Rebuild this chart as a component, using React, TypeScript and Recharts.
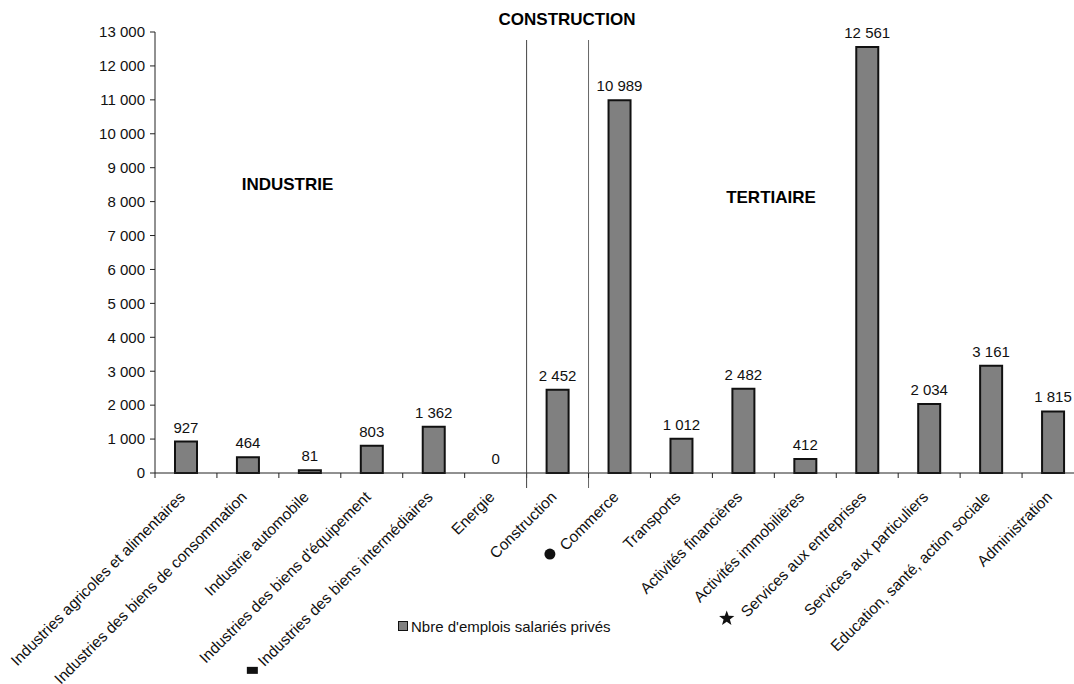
import { ComposedChart, Bar, Line, XAxis, YAxis, LabelList, Legend } from "recharts";

const categories = [
  "Industries agricoles et alimentaires",
  "Industries des biens de consommation",
  "Industrie automobile",
  "Industries des biens d'équipement",
  "Industries des biens intermédiaires",
  "Energie",
  "Construction",
  "Commerce",
  "Transports",
  "Activités financières",
  "Activités immobilières",
  "Services aux entreprises",
  "Services aux particuliers",
  "Education, santé, action sociale",
  "Administration",
];
const jobs = [927, 464, 81, 803, 1362, 0, 2452, 10989, 1012, 2482, 412, 12561, 2034, 3161, 1815];
// small symbols printed in front of some category names
const labelMarks = ["", "", "", "", "rect", "", "", "circle", "", "", "", "star", "", "", ""];
const yTicks = [0, 1000, 2000, 3000, 4000, 5000, 6000, 7000, 8000, 9000, 10000, 11000, 12000, 13000];
const seriesName = "Nbre d'emplois salariés privés";

const FONT = '"Liberation Sans", Arial, Helvetica, sans-serif';
const LABEL_SIZE = 15.5;
const SEPARATOR_TOP = 40;

const data = categories.map((name, i) => ({ name, value: jobs[i] }));

const fmt = (v: number | string) => String(v).replace(/\B(?=(\d{3})+(?!\d))/g, " ");

let ctx: CanvasRenderingContext2D | null = null;
function textWidth(s: string, size: number) {
  if (!ctx) ctx = document.createElement("canvas").getContext("2d");
  if (!ctx) return s.length * size * 0.5;
  ctx.font = `${size}px ${FONT}`;
  return ctx.measureText(s).width;
}

function starPath(cx: number, cy: number, r: number, ri: number) {
  const pts: string[] = [];
  for (let k = 0; k < 10; k++) {
    const rad = k % 2 === 0 ? r : ri;
    const a = -Math.PI / 2 + (k * Math.PI) / 5;
    pts.push(`${(cx + rad * Math.cos(a)).toFixed(2)},${(cy + rad * Math.sin(a)).toFixed(2)}`);
  }
  return "M" + pts.join("L") + "Z";
}

function CategoryTick(props: any) {
  const { x, y, payload } = props;
  const label = String(payload.value);
  const idx = categories.indexOf(label);
  const half = payload.offset ?? 31;
  const mark = labelMarks[idx];
  const ex = x;
  const ey = y + 25;
  const w = textWidth(label, LABEL_SIZE);
  // start of the rotated label (baseline)
  const sx = ex - w * Math.SQRT1_2;
  const sy = ey + w * Math.SQRT1_2;

  return (
    <g>
      <line x1={x - half} y1={y} x2={x - half} y2={y + 5} stroke="#222" />
      {idx === categories.length - 1 && <line x1={x + half} y1={y} x2={x + half} y2={y + 5} stroke="#222" />}
      {label === "Construction" && (
        <>
          <line x1={x - half} y1={y + 15} x2={x - half} y2={SEPARATOR_TOP} stroke="#444" />
          <line x1={x + half} y1={y + 15} x2={x + half} y2={SEPARATOR_TOP} stroke="#666" />
        </>
      )}
      <text x={ex} y={ey} textAnchor="end" transform={`rotate(-45 ${ex} ${ey})`} fontSize={LABEL_SIZE} fill="#111">
        {label}
      </text>
      {mark === "circle" && <circle cx={sx - 16} cy={sy + 2.5} r={5.5} fill="#111" />}
      {mark === "rect" && <rect x={sx - 12 - 5.5} y={sy + 3 - 3.5} width={11} height={7} fill="#111" />}
      {mark === "star" && <path d={starPath(sx - 20.5, sy + 0.5, 8, 3.3)} fill="#111" />}
    </g>
  );
}

function ValueLabel(props: any) {
  const { x, y, value } = props;
  return (
    <text x={x} y={y - 9} textAnchor="middle" fontSize={15} fill="#111">
      {fmt(value)}
    </text>
  );
}

function LegendBox(props: any) {
  const items = (props.payload ?? []).filter((it: any) => it.type !== "none");
  return (
    <div>
      {items.map((it: any) => (
        <div key={it.value} style={{ display: "flex", alignItems: "center", height: 20, fontSize: 15, color: "#111", whiteSpace: "nowrap" }}>
          <span style={{ display: "inline-block", boxSizing: "border-box", width: 10, height: 10, background: "#808080", border: "1.5px solid #111", marginRight: 3 }} />
          {it.value}
        </div>
      ))}
    </div>
  );
}

export default function App() {
  return (
    <div style={{ position: "absolute", left: 0, top: 0, width: 1074, height: 684, overflow: "hidden", background: "#fff", fontFamily: FONT }}>
      <ComposedChart width={1090} height={684} data={data} margin={{ top: 32, right: 6, bottom: 0, left: 0 }}>
        <XAxis
          dataKey="name"
          interval={0}
          height={211}
          tickLine={false}
          tickSize={0}
          tickMargin={0}
          axisLine={{ stroke: "#222" }}
          tick={<CategoryTick />}
        />
        <YAxis
          type="number"
          domain={[0, 13000]}
          ticks={yTicks}
          interval={0}
          width={155}
          tickSize={5}
          tickMargin={5}
          tickFormatter={fmt}
          tick={{ fontSize: 15, fill: "#111" }}
          axisLine={{ stroke: "#222" }}
          tickLine={{ stroke: "#222" }}
        />
        <Legend
          layout="vertical"
          align="center"
          verticalAlign="middle"
          wrapperStyle={{ left: 398, top: 616, width: "auto" }}
          content={<LegendBox />}
        />
        <Bar dataKey="value" name={seriesName} fill="#808080" stroke="#111" strokeWidth={2} barSize={22} isAnimationActive={false} />
        {/* invisible series carrying the value labels, so the zero value gets its label too */}
        <Line
          dataKey="value"
          name="labels"
          stroke="none"
          dot={false}
          activeDot={false}
          legendType="none"
          isAnimationActive={false}
        >
          <LabelList dataKey="value" content={<ValueLabel />} />
        </Line>
      </ComposedChart>
      <svg width={1074} height={684} style={{ position: "absolute", left: 0, top: 0, pointerEvents: "none" }}>
        <g fontWeight="bold" fontSize={17} fill="#000" textAnchor="middle">
          <text x={567} y={25}>CONSTRUCTION</text>
          <text x={287.5} y={190}>INDUSTRIE</text>
          <text x={771} y={203}>TERTIAIRE</text>
        </g>
      </svg>
    </div>
  );
}
